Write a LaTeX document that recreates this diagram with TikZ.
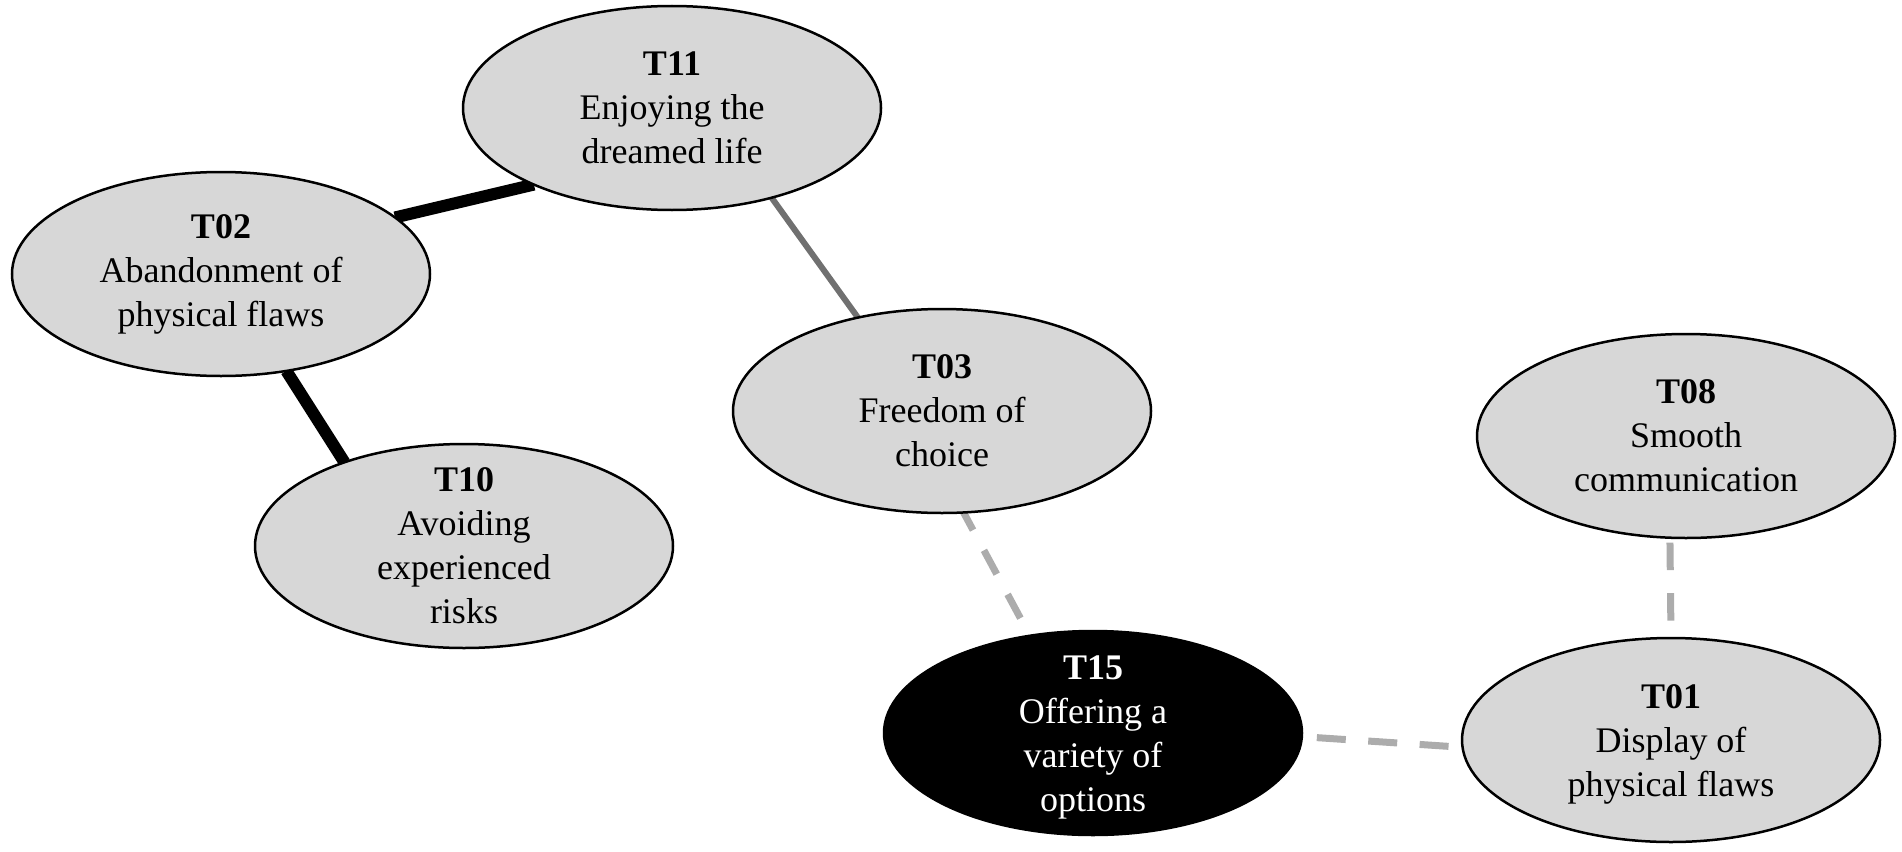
\documentclass[tikz,border=0pt]{standalone}
\usepackage{fontspec}
\setmainfont{Liberation Serif}
\usetikzlibrary{shapes.geometric}
\pgfdeclarelayer{background}
\pgfsetlayers{background,main}
\definecolor{ellfill}{RGB}{215,215,215}
\definecolor{midgray}{RGB}{112,112,112}
\definecolor{lightgray}{RGB}{172,172,172}
\tikzset{
  ell/.style={ellipse, draw=black, line width=2.5pt, fill=ellfill,
    minimum width=418pt, minimum height=204pt, inner sep=0pt, outer sep=0pt},
  ellblack/.style={ell, fill=black},
  txt/.style={align=center, inner sep=0pt, font=\fontsize{36}{44}\selectfont},
  strong/.style={line width=12pt, black},
  medium/.style={line width=6pt, midgray},
  weak/.style={line width=7pt, lightgray}
}
\begin{document}
\begin{tikzpicture}[x=1pt,y=-1pt]
\useasboundingbox (0,0) rectangle (1902,851);
% ellipses
\node[ell] (T11) at (672,108) {};
\node[ell] (T02) at (221,274) {};
\node[ell] (T03) at (942,411) {};
\node[ell] (T10) at (464,546) {};
\node[ellblack] (T15) at (1093,733) {};
\node[ell] (T08) at (1686,436) {};
\node[ell] (T01) at (1671,740) {};
% texts
\node[txt] (T11t) at (T11) {\textbf{T11}\\Enjoying the\\dreamed life};
\node[txt] (T02t) at (T02) {\textbf{T02}\\Abandonment of\\physical flaws};
\node[txt] (T03t) at (T03) {\textbf{T03}\\Freedom of\\choice};
\node[txt] (T10t) at (T10) {\textbf{T10}\\Avoiding\\experienced\\risks};
\node[txt, text=white] (T15t) at ([yshift=-4pt]T15.center) {\textbf{T15}\\Offering a\\variety of\\options};
\node[txt] (T08t) at (T08) {\textbf{T08}\\Smooth\\communication};
\node[txt] (T01t) at ([yshift=-4pt]T01.center) {\textbf{T01}\\Display of\\physical flaws};
% connectors
\begin{pgfonlayer}{background}
\draw[strong] (T02.18) -- (T11.209.6);
\draw[strong] (T02.304.6) -- (T10.145.2);
\draw[medium] (T11.318) -- (T03.132.5);
\draw[weak, dash pattern=on 27pt off 23pt, dash phase=7pt] (T03.282.5) -- (T15.123.6);
\draw[weak, dash pattern=on 29pt off 22.5pt, dash phase=36.5pt] (T15.-1.6) -- (T01.182.2);
\draw[weak, dash pattern=on 27.5pt off 23pt, dash phase=45.5pt] (T08.261.6) -- (T01.90);
\end{pgfonlayer}
\end{tikzpicture}
\end{document}
